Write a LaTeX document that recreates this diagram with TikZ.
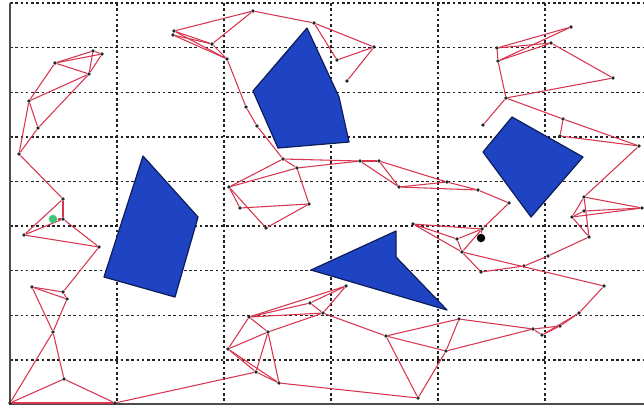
\documentclass[tikz,border=0pt]{standalone}
\usepackage{xcolor}
\usepackage{tikz}
\usetikzlibrary{arrows.meta, positioning, calc}
\definecolor{rougearete}{HTML}{D8344E}
\definecolor{bleuobst}{HTML}{1E44C4}
\definecolor{bordobst}{HTML}{0E1E5C}
\definecolor{vertdep}{HTML}{3CC878}
\definecolor{gristrait}{HTML}{222222}
\tikzset{
  sommet/.style={circle, fill=black!85, inner sep=0pt, minimum size=0.075cm},
  arete/.style={color=rougearete, line width=0.6pt},
  obstacle/.style={fill=bleuobst, draw=bordobst, line width=0.7pt, line join=round},
  grille/.style={color=gristrait, line width=0.8pt, dash pattern=on 1.5pt off 1.5pt},
  cadre/.style={color=black!70, line width=1pt},
  depart/.style={circle, fill=vertdep, inner sep=0pt, minimum size=0.17cm},
  arrivee/.style={circle, fill=black, inner sep=0pt, minimum size=0.17cm}
}

\begin{document}
\begin{tikzpicture}[x=0.02cm, y=-0.02cm]
    \fill[white] (0,0) rectangle (644,407);
    \useasboundingbox (0,0) rectangle (644,407);

    % grille
    \foreach \gx in {117,224,331,438,545}
      \draw[grille] (\gx,3) -- (\gx,404);
    \foreach \gy in {47.6,92.2,136.8,181.4,226,270.6,315.2,359.8}
      \draw[grille] (10,\gy) -- (644,\gy);
    \draw[grille, line width=1.1pt] (10,3) -- (644,3);
    \draw[cadre] (10,3) -- (10,404) -- (644,404);

    % obstacles
    \filldraw[obstacle] (307,28) -- (339,97) -- (349,142) -- (278,148) -- (253,91) -- cycle;
    \filldraw[obstacle] (143,156) -- (198,217) -- (175,297) -- (104,277) -- cycle;
    \filldraw[obstacle] (512,117) -- (583,157) -- (531,217) -- (483,152) -- cycle;
    \filldraw[obstacle] (311,270) -- (396,231) -- (396,257) -- (447,310) -- cycle;

    % sommets
    \node[sommet] (a1) at (93,51) {};
    \node[sommet] (a2) at (102,54) {};
    \node[sommet] (a3) at (55,63) {};
    \node[sommet] (a4) at (89,74) {};
    \node[sommet] (a5) at (29,101) {};
    \node[sommet] (a6) at (38,128) {};
    \node[sommet] (a7) at (19,154) {};
    \node[sommet] (a8) at (63,199) {};
    \node[sommet] (b1) at (63,219) {};
    \node[sommet] (b2) at (24,235) {};
    \node[sommet] (b3) at (99,247) {};
    \node[sommet] (c1) at (32,287) {};
    \node[sommet] (c2) at (63,292) {};
    \node[sommet] (c3) at (67,299) {};
    \node[sommet] (c4) at (53,332) {};
    \node[sommet] (c5) at (64,379) {};
    \node[sommet] (c6) at (10,403) {};
    \node[sommet] (c7) at (115,403) {};

    \node[sommet] (j1) at (174,31) {};
    \node[sommet] (j2) at (173,35) {};
    \node[sommet] (j3) at (212,44) {};
    \node[sommet] (j4) at (227,59) {};
    \node[sommet] (j5) at (253,11) {};
    \node[sommet] (j6) at (314,23) {};
    \node[sommet] (j7) at (374,47) {};
    \node[sommet] (j8) at (337,60) {};
    \node[sommet] (j9) at (347,81) {};
    \node[sommet] (k1) at (246,107) {};
    \node[sommet] (k2) at (257,126) {};

    \node[sommet] (h1) at (283,159) {};
    \node[sommet] (h2) at (297,168) {};
    \node[sommet] (h3) at (229,187) {};
    \node[sommet] (h4) at (240,208) {};
    \node[sommet] (h5) at (309,204) {};
    \node[sommet] (h6) at (266,228) {};
    \node[sommet] (h7) at (360,161) {};
    \node[sommet] (h8) at (379,161) {};
    \node[sommet] (h9) at (399,187) {};

    \node[sommet] (l1) at (571,27) {};
    \node[sommet] (l2) at (497,48) {};
    \node[sommet] (l3) at (551,43) {};
    \node[sommet] (l4) at (498,61) {};
    \node[sommet] (l5) at (613,78) {};
    \node[sommet] (l6) at (506,98) {};
    \node[sommet] (l7) at (483,125) {};
    \node[sommet] (l8) at (563,119) {};
    \node[sommet] (l9) at (560,136) {};
    \node[sommet] (l10) at (639,146) {};

    \node[sommet] (f1) at (447,182) {};
    \node[sommet] (f2) at (478,190) {};
    \node[sommet] (f3) at (509,203) {};
    \node[sommet] (f4) at (413,224) {};
    \node[sommet] (f5) at (482,229) {};
    \node[sommet] (f6) at (457,239) {};
    \node[sommet] (f7) at (462,252) {};
    \node[sommet] (f8) at (524,266) {};
    \node[sommet] (f9) at (548,256) {};
    \node[sommet] (f10) at (589,237) {};
    \node[sommet] (f11) at (572,217) {};
    \node[sommet] (f12) at (584,197) {};
    \node[sommet] (f13) at (642,208) {};
    \node[sommet] (f14) at (584,211) {};

    \node[sommet] (d1) at (249,317) {};
    \node[sommet] (d2) at (310,303) {};
    \node[sommet] (d3) at (346,286) {};
    \node[sommet] (d4) at (323,313) {};
    \node[sommet] (d5) at (268,332) {};
    \node[sommet] (d6) at (228,349) {};
    \node[sommet] (d7) at (256,372) {};
    \node[sommet] (d8) at (279,383) {};
    \node[sommet] (d9) at (386,336) {};
    \node[sommet] (d10) at (418,398) {};
    \node[sommet] (d11) at (446,351) {};

    \node[sommet] (e1) at (481,272) {};
    \node[sommet] (e3) at (604,286) {};
    \node[sommet] (e4) at (579,313) {};
    \node[sommet] (e5) at (560,326) {};
    \node[sommet] (e6) at (533,329) {};
    \node[sommet] (e7) at (542,335) {};
    \node[sommet] (e8) at (459,319) {};

    % aretes
    \foreach \u/\v in {a3/a1, a3/a2, a1/a2, a1/a4, a2/a4, a3/a4, a5/a3, a5/a4,
        a6/a4, a5/a6, a5/a7, a7/a6, a7/a8, a8/b1, a8/b2, b1/b2, b1/b3, b2/b3,
        b3/c2, c1/c2, c1/c3, c2/c3, c1/c4, c3/c4, c4/c5, c4/c6, c5/c6, c5/c7,
        c6/c7, c7/d7}
      \draw[arete] (\u) -- (\v);
    \foreach \u/\v in {j1/j5, j1/j3, j1/j4, j2/j3, j2/j4, j3/j5, j3/j4, j5/j6,
        j6/j7, j6/j8, j8/j7, j7/j9, j4/k1, k1/k2, k2/h1, h1/h3, h1/h7, h1/h2,
        h2/h3, h2/h5, h2/h7, h3/h4, h3/h6, h4/h5, h6/h5, h7/h8, h7/h9, h8/h9,
        h8/f1, h9/f1, h9/f2}
      \draw[arete] (\u) -- (\v);
    \foreach \u/\v in {l2/l1, l4/l1, l2/l3, l4/l3, l2/l4, l3/l5, l4/l6, l6/l5,
        l6/l7, l6/l8, l8/l9, l8/l10, l9/l10, l10/f12, f1/f2, f2/f3, f3/f5,
        f4/f5, f4/f6, f4/f7, f6/f7, f6/f5, f7/f5, f7/e1, f7/e3, e1/f8, f8/f9,
        f9/f10, f10/f11, f10/f12, f11/f12, f11/f14, f11/f13, f12/f13, f14/f13}
      \draw[arete] (\u) -- (\v);
    \foreach \u/\v in {d1/d3, d1/d2, d1/d4, d2/d4, d2/d3, d3/d4, d1/d6, d1/d5,
        d6/d5, d5/d4, d6/d7, d6/d8, d5/d7, d5/d8, d7/d8, d8/d10, d4/d9, d9/d10,
        d9/d11, d9/e8, d10/d11, d11/e8, d11/e6, e8/e6, e6/e7, e6/e5, e7/e5,
        e5/e4, e7/e4, e4/e3}
      \draw[arete] (\u) -- (\v);

    % depart et arrivee
    \node[depart] (dep) at (53,219) {};
    \node[arrivee] (arr) at (481,238) {};
    \draw[arete] (dep) -- (b1);
    \draw[arete] (arr) -- (f5);
  \end{tikzpicture}
\end{document}
